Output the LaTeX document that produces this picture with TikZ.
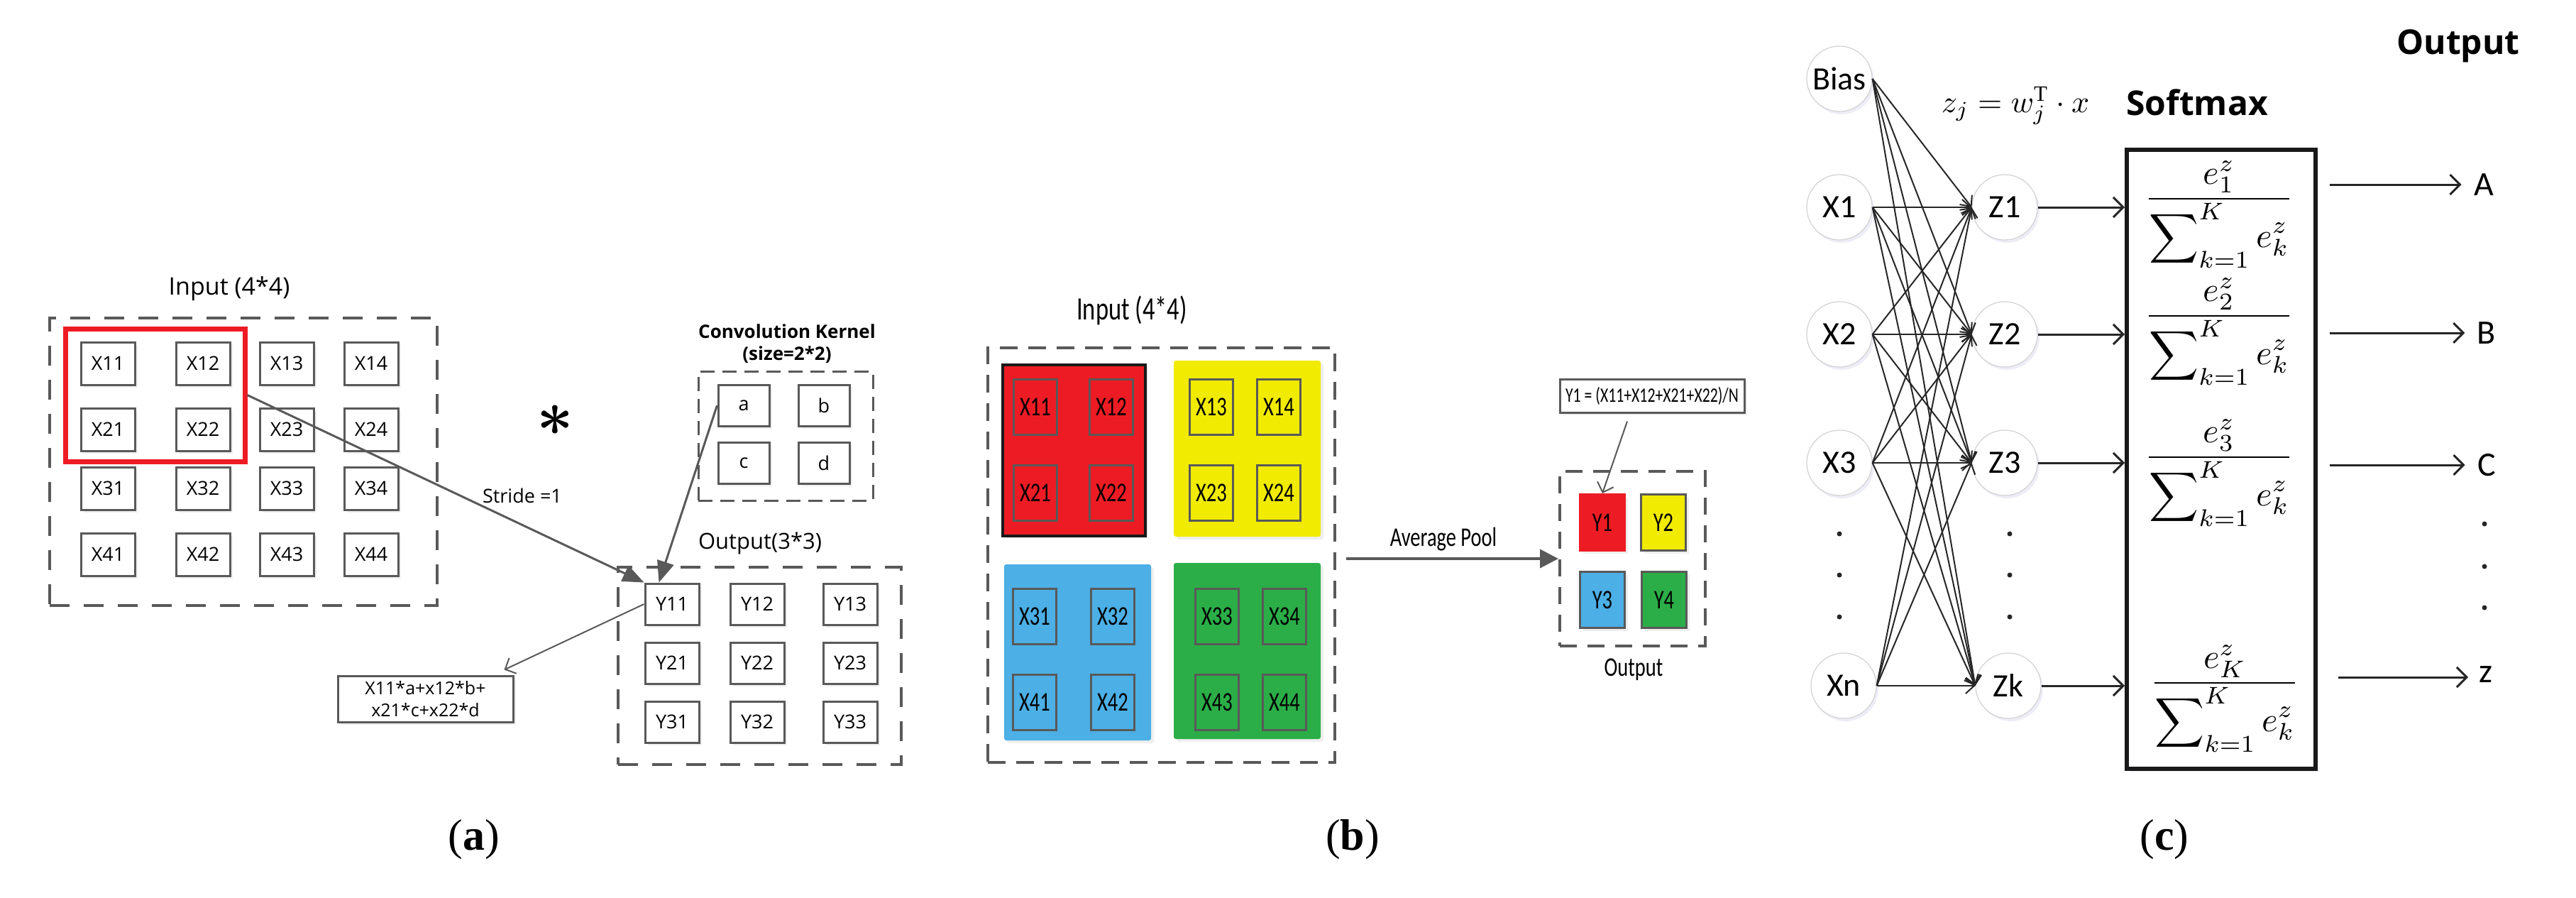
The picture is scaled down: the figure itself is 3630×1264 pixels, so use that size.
\RequirePackage{fix-cm}
\documentclass[tikz,border=0pt]{standalone}
\usepackage{amsmath}
\usepackage{graphicx}
\usepackage{fontspec}
\setmainfont{Liberation Serif}
\newfontfamily\fa{Open Sans}
\newfontfamily\fb[FakeStretch=0.75]{Carlito}
\newfontfamily\fc{Carlito}
\usetikzlibrary{arrows.meta,shadows}
\newcommand\myfs[1]{\fontsize{#1}{#1}\selectfont}
\newcommand\smfrac[1]{\scalebox{4.85}{$\dfrac{e_{#1}^{z}}{\displaystyle\sum\nolimits_{k=1}^{K} e_k^{z}}$}}
\definecolor{lgray}{RGB}{89,89,89}
\definecolor{myred}{RGB}{237,28,36}
\definecolor{myyellow}{RGB}{240,235,0}
\definecolor{myblue}{RGB}{76,175,229}
\definecolor{mygreen}{RGB}{43,174,71}
\begin{document}
\begin{tikzpicture}[x=1pt,y=-1pt,
  softshadow/.style={drop shadow={opacity=0.13, shadow xshift=4pt, shadow yshift=-4pt}},
  dashA/.style={draw=lgray, line width=4pt, dash pattern=on 28pt off 20pt, inner sep=0pt},
  dashK/.style={draw=lgray, line width=3pt, dash pattern=on 20pt off 11pt, inner sep=0pt},
  dashB/.style={draw=lgray, line width=4pt, dash pattern=on 25pt off 15pt, inner sep=0pt},
  dashP/.style={draw=lgray, line width=4pt, dash pattern=on 24pt off 15pt, inner sep=0pt},
  acell/.style={draw=lgray, fill=white, softshadow, line width=3pt, minimum width=76pt, minimum height=60pt, inner sep=0pt, font=\fa\myfs{27}},
  kcell/.style={draw=lgray, fill=white, softshadow, line width=3pt, minimum width=72pt, minimum height=58pt, inner sep=0pt, font=\fa\myfs{27}},
  ycell/.style={draw=lgray, fill=white, softshadow, line width=3pt, minimum width=76pt, minimum height=58pt, inner sep=0pt, font=\fa\myfs{27}},
  bcell/.style={draw=lgray, line width=3pt, minimum width=61pt, minimum height=78pt, inner sep=0pt, font=\fb\myfs{38}},
  pcell/.style={draw=lgray, line width=3pt, minimum width=63pt, minimum height=79pt, inner sep=0pt, font=\fb\myfs{38}},
  block/.style={rounded corners=3pt, inner sep=0pt, minimum width=207pt, minimum height=248pt},
  fbox/.style={draw=lgray, fill=white, softshadow, line width=3pt, inner sep=0pt},
  garrow/.style={draw=lgray, line width=3pt, -{Triangle[length=30pt,width=24pt]}},
  parrow/.style={draw=lgray, line width=4pt, -{Triangle[length=26pt,width=26pt]}},
  thinarrow/.style={draw=lgray, line width=2pt, -{Straight Barb[length=12pt,width=24pt,line width=2pt]}},
  neuron/.style={circle, draw=gray!35, line width=1.2pt, fill=white, minimum size=92pt, inner sep=0pt, font=\fc\myfs{46},
     drop shadow={opacity=0.10, fill=blue!40!gray, shadow xshift=3pt, shadow yshift=-4pt}},
  nnline/.style={draw=black!85, line width=2pt, -{Straight Barb[length=12pt,width=22pt,line width=2pt]}},
  oarrow/.style={draw=black!85, line width=3pt, -{Straight Barb[length=14pt,width=28pt,line width=3pt]}},
  dotmark/.style={circle, fill=black!85, inner sep=0pt, minimum size=7pt},
  fracnode/.style={anchor=base, inner sep=0pt},
  caption/.style={font=\myfs{62}}
]
\useasboundingbox (0,0) rectangle (3630,1264);

% ---------------- panel (a) ----------------
\node[dashA, minimum width=546pt, minimum height=405pt] (ain) at (343,650.5) {};
\node[font=\fa\myfs{34}] (ainlab) at (323,407) {Input (4*4)};
\foreach \r/\y in {1/512,2/605,3/688,4/781}
  \foreach \c/\x in {1/152,2/286,3/404,4/523}
    \node[acell] (x\r\c) at (\x,\y) {X\r\c};
\node[draw=myred, line width=7pt, minimum width=253pt, minimum height=187pt, inner sep=0pt] (red) at (218.5,556.5) {};

\node[font=\boldmath\myfs{90}] (star) at (782,592) {$\ast$};

\node[font=\fa\bfseries\fontsize{26}{31}\selectfont, align=center] (ktitle) at (1109,484.5) {Convolution Kernel\\(size=2*2)};
\node[dashK, minimum width=246pt, minimum height=182pt] (kbox) at (1107,614) {};
\node[kcell] (ka) at (1048,571) {a};
\node[kcell] (kb) at (1161,571) {b};
\node[kcell] (kc) at (1048,652) {c};
\node[kcell] (kd) at (1161,652) {d};

\node[font=\fa\myfs{31}] (aoutlab) at (1071,765) {Output(3*3)};
\node[dashA, minimum width=399pt, minimum height=278pt] (aout) at (1070.5,938) {};
\foreach \r/\y in {1/851,2/934,3/1017}
  \foreach \c/\x in {1/947,2/1067,3/1198}
    \node[ycell] (y\r\c) at (\x,\y) {Y\r\c};

\node[font=\fa\myfs{27}] (stride) at (736,698) {Stride =1};
\node[fbox, minimum width=247pt, minimum height=65pt, align=center, font=\fa\fontsize{25}{31}\selectfont] (fa) at (599.5,984.5) {X11*a+x12*b+\\x21*c+x22*d};

\draw[garrow] (red.east) -- (y11.north west);
\draw[garrow] (ka.west) -- ([xshift=21pt]y11.north west);
\draw[thinarrow] (y11.west) -- ([xshift=-14pt,yshift=7pt]fa.north east);

% ---------------- panel (b) ----------------
\node[font=\fb\myfs{46}] (binlab) at (1595,437) {Input (4*4)};
\node[dashB, minimum width=489pt, minimum height=584pt] (bin) at (1636.5,782) {};
\node[block, fill=myred, draw=black!90, line width=4pt, rounded corners=0pt, minimum width=201pt, minimum height=241pt, softshadow] (bred) at (1513.5,634.5) {};
\node[block, fill=myyellow, softshadow] (byel) at (1757.5,632) {};
\node[block, fill=myblue, softshadow] (bblue) at (1518.5,919) {};
\node[block, fill=mygreen, softshadow] (bgreen) at (1757.5,917) {};
\foreach \n/\x/\y in {11/1459/573, 12/1566/573, 21/1459/694, 22/1566/694,
                      13/1707/573, 14/1802/573, 23/1707/694, 24/1802/694,
                      31/1458/868, 32/1568/868, 41/1458/989, 42/1568/989,
                      33/1715/868, 34/1810/868, 43/1715/989, 44/1810/989}
  \node[bcell] (b\n) at (\x,\y) {X\n};

\coordinate (apstart) at (1897,787);
\node[dashP, minimum width=205pt, minimum height=246pt] (pout) at (2300.5,787) {};
\draw[parrow] (apstart) -- (pout.west);
\node[font=\fb\myfs{38}] (aplab) at (2034,760) {Average Pool};
\node[pcell, fill=myred, draw=myred, softshadow] (py1) at (2258,736) {Y1};
\node[pcell, fill=myyellow, softshadow] (py2) at (2344,736) {Y2};
\node[pcell, fill=myblue, softshadow] (py3) at (2258,845) {Y3};
\node[pcell, fill=mygreen, softshadow] (py4) at (2345,845) {Y4};
\node[font=\fb\myfs{38}] (poutlab) at (2302,943) {Output};
\node[fbox, minimum width=260pt, minimum height=47pt, font=\fb\myfs{29}] (pf) at (2328,557.5) {Y1 = (X11+X12+X21+X22)/N};
\draw[thinarrow] ([xshift=-35pt,yshift=-11pt]pf.south) -- (py1.north);

% ---------------- panel (c) ----------------
\node[neuron] (bias) at (2592,111) {Bias};
\node[neuron] (n1) at (2592,292) {X1};
\node[neuron] (n2) at (2592,471) {X2};
\node[neuron] (n3) at (2592,652) {X3};
\node[neuron] (nn) at (2598,966) {Xn};
\node[neuron] (z1) at (2825,292) {Z1};
\node[neuron] (z2) at (2825,471) {Z2};
\node[neuron] (z3) at (2825,652) {Z3};
\node[neuron] (zk) at (2830,966) {Zk};
\foreach \y [count=\i] in {752,810,869} {
  \node[dotmark] (dl\i) at (2592,\y) {};
  \node[dotmark] (dr\i) at (2832,\y) {};
}
\foreach \s in {bias,n1,n2,n3,nn}
  \foreach \t in {z1,z2,z3,zk}
    \draw[nnline] (\s.east) -- (\t.west);

\node[inner sep=0pt] (zform) at (2840,149) {\scalebox{4.4}{$z_j = w_j^{\mathrm{T}}\cdot x$}};
\node[font=\fa\bfseries\myfs{48}] (smlab) at (3096,144) {Softmax};
\node[font=\fa\bfseries\myfs{48}] (outlab) at (3464,65) {Output};

\node[draw=black!90, line width=6pt, minimum width=266pt, minimum height=872pt, inner sep=0pt,
  drop shadow={opacity=0.10, fill=blue!40!gray, shadow xshift=4pt, shadow yshift=-4pt}, fill=white] (smax) at (3130,647) {};
\foreach \z in {z1,z2,z3,zk}
  \draw[oarrow] (\z.east) -- (\z.east -| smax.west);

\node[fracnode] (f1) at (3127,292) {\smfrac{1}};
\node[fracnode] (f2) at (3127,457) {\smfrac{2}};
\node[fracnode] (f3) at (3127,656) {\smfrac{3}};
\node[fracnode] (fk) at (3135,974) {\smfrac{K}};

\node[font=\fc\myfs{48}] (oa) at (3500,260) {A};
\node[font=\fc\myfs{48}] (ob) at (3504,469) {B};
\node[font=\fc\myfs{48}] (oc) at (3504,655) {C};
\node[font=\fc\myfs{48}] (oz) at (3503,950) {z};
\coordinate (sa) at (3283,260);
\coordinate (sb) at (3283,469);
\coordinate (sc) at (3283,655);
\coordinate (sz) at (3295,954);
\draw[oarrow] (sa) -- ([xshift=-14pt]oa.west);
\draw[oarrow] (sb) -- ([xshift=-14pt]ob.west);
\draw[oarrow] (sc) -- ([xshift=-14pt]oc.west);
\draw[oarrow] (sz) -- ([xshift=-12pt]oz.west |- sz);
\foreach \y [count=\i] in {738,798,856}
  \node[dotmark] (od\i) at (3501,\y) {};

% ---------------- captions ----------------
\node[caption] (capa) at (668,1183) {(\textbf{a})};
\node[caption] (capb) at (1906,1183) {(\textbf{b})};
\node[caption] (capc) at (3050,1183) {(\textbf{c})};
\end{tikzpicture}
\end{document}
